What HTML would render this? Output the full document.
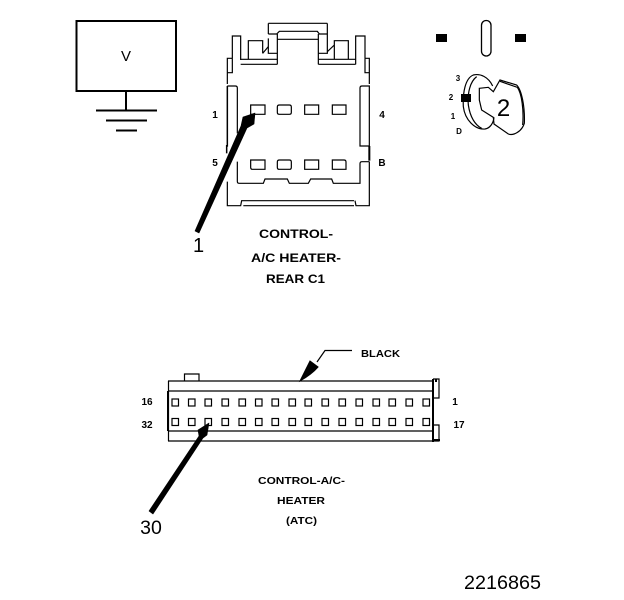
<!DOCTYPE html>
<html>
<head>
<meta charset="utf-8">
<style>
html,body{margin:0;padding:0;background:#fff;width:624px;height:600px;overflow:hidden}
svg{display:block}
text{font-family:"Liberation Sans",sans-serif;fill:#000}
.b{font-weight:bold;font-size:11.5px}
.s{font-size:10px;font-weight:bold}
</style>
</head>
<body>
<svg width="624" height="600" viewBox="0 0 624 600" xmlns="http://www.w3.org/2000/svg">
<rect width="624" height="600" fill="#fff"/>

<!-- V box with ground -->
<rect x="76.5" y="21" width="99.5" height="70" fill="none" stroke="#000" stroke-width="2"/>
<path d="M126 91V110M96 110.500H157M106 120.500H147M116 130.500H137" fill="none" stroke="#000" stroke-width="2"/>
<text x="126" y="61" text-anchor="middle" font-size="15">V</text>

<!-- Connector C1 (drawn in 3x zoom coordinates) -->
<g transform="translate(200 10) scale(.33333)" fill="none" stroke="#000" stroke-width="3.600">
<path d="M205 40H382M205 40V72M382 40V72M205 72H230L238 64H352L358 72H382M232 88H355"/>
<path d="M205 85V130H232V163M232 72V130M382 72V130H355V163M355 72V130"/>
<path d="M97 145V78H122V150M122 148H232M122 163H232"/>
<path d="M145 148V92H188V130M188 130L205 110"/>
<path d="M355 148H467M355 163H467M467 163V78H495V145"/>
<path d="M403 148V92H445V148M382 125L403 105"/>
<path d="M97 145H82V222M82 188H97V145M495 145H508V222M495 145V188H508"/>
<path d="M82 228H106Q112 228 112 234V370"/>
<path d="M82 228V410" stroke-width="4.500"/>
<path d="M80 405V430" stroke-width="4.500"/>
<path d="M82 515V587H122L125 572H130M130 572H462M130 587H462M122 587L125 572M465 572L468 587H508V455"/>
<path d="M486 228H508V408H480V234Q480 228 486 228Z"/>
<path d="M508 408V452" stroke-width="6"/>
<path d="M508 455H486Q480 455 480 461V520H400L395 507H332L325 520H268L262 507H195L190 520H118Q112 520 112 514V455"/>
<path d="M152 285H195V313H152ZM238 285H268Q274 285 274 291V307Q274 313 268 313H238Q232 313 232 307V291Q232 285 238 285ZM314 285H356V313H314ZM397 285H438V313H397Z"/>
<path d="M152 450H195V478H158Q152 478 152 472ZM238 450H268Q274 450 274 456V472Q274 478 268 478H238Q232 478 232 472V456Q232 450 238 450ZM314 450H356V478H314ZM397 450H432Q438 450 438 456V478H397Z"/>
</g>
<text class="s" x="215" y="118" text-anchor="middle">1</text>
<text class="s" x="382" y="118" text-anchor="middle">4</text>
<text class="s" x="215" y="166" text-anchor="middle">5</text>
<text class="s" x="382" y="166" text-anchor="middle">B</text>

<!-- Arrow 1 -->
<path d="M195 231L199 233L247 128L254 124L255 113L243 117L241 126Z" fill="#000" stroke="#000" stroke-width=".6" stroke-linejoin="round"/>
<text x="198.500" y="252" text-anchor="middle" font-size="20">1</text>

<!-- Labels C1 -->
<text class="b" x="259" y="238" textLength="74" lengthAdjust="spacingAndGlyphs">CONTROL-</text>
<text class="b" x="251" y="262" textLength="90" lengthAdjust="spacingAndGlyphs">A/C HEATER-</text>
<text class="b" x="266" y="283" textLength="59" lengthAdjust="spacingAndGlyphs">REAR C1</text>

<!-- Key / terminal view -->
<rect x="436" y="34" width="11" height="8" fill="#000"/>
<rect x="515" y="34" width="11" height="8" fill="#000"/>
<rect x="481.500" y="20.500" width="9.500" height="35.500" rx="4.700" fill="none" stroke="#000" stroke-width="1.300"/>
<g transform="translate(420 10) scale(.33333)" fill="none" stroke="#000" stroke-width="3.600">
<path d="M218 228C205 200 180 190 160 195C135 205 128 250 130 290C135 330 165 360 195 357C210 355 220 340 222 322"/>
<path d="M170 200C150 215 142 250 145 285C150 320 165 345 185 355"/>
<path d="M178 235L205 232L220 245L240 210L290 225C305 240 315 290 313 340C305 365 280 378 265 372L222 342L220 322L185 300L178 270Z"/>
<path d="M240 214L292 232C305 250 312 300 308 345"/>
</g>
<rect x="461" y="94" width="10" height="8" fill="#000"/>
<text x="458" y="81" text-anchor="middle" font-size="8" font-weight="bold">3</text>
<text x="451" y="100" text-anchor="middle" font-size="8" font-weight="bold">2</text>
<text x="453" y="119" text-anchor="middle" font-size="8" font-weight="bold">1</text>
<text x="459" y="134" text-anchor="middle" font-size="8" font-weight="bold">D</text>
<text x="503.500" y="116" text-anchor="middle" font-size="24">2</text>

<!-- Bottom connector -->
<g fill="none" stroke="#000" stroke-width="1.200">
<path d="M168 381H433M168 391H433M168 431H433M168 441H433M168.500 381V441"/>
<path d="M168 391V431" stroke-width="2"/>
<path d="M433 379V442" stroke-width="2"/>
<path d="M184.500 381V374H199V381"/>
<path d="M433 379H439V398H434M434 425H439V441H433"/>
<path d="M436 379V382M434 440H440" stroke-width="2"/>
<g>
<rect x="172" y="399" width="6.500" height="7"/><rect x="188.500" y="399" width="6.500" height="7"/><rect x="205" y="399" width="6.500" height="7"/><rect x="222" y="399" width="6.500" height="7"/><rect x="239" y="399" width="6.500" height="7"/><rect x="255.500" y="399" width="6.500" height="7"/><rect x="272" y="399" width="6.500" height="7"/><rect x="289" y="399" width="6.500" height="7"/><rect x="305" y="399" width="6.500" height="7"/><rect x="322" y="399" width="6.500" height="7"/><rect x="339" y="399" width="6.500" height="7"/><rect x="356" y="399" width="6.500" height="7"/><rect x="373" y="399" width="6.500" height="7"/><rect x="389" y="399" width="6.500" height="7"/><rect x="406" y="399" width="6.500" height="7"/><rect x="423" y="399" width="6.500" height="7"/>
<rect x="172" y="418.500" width="6.500" height="7"/><rect x="188.500" y="418.500" width="6.500" height="7"/><rect x="205" y="418.500" width="6.500" height="7"/><rect x="222" y="418.500" width="6.500" height="7"/><rect x="239" y="418.500" width="6.500" height="7"/><rect x="255.500" y="418.500" width="6.500" height="7"/><rect x="272" y="418.500" width="6.500" height="7"/><rect x="289" y="418.500" width="6.500" height="7"/><rect x="305" y="418.500" width="6.500" height="7"/><rect x="322" y="418.500" width="6.500" height="7"/><rect x="339" y="418.500" width="6.500" height="7"/><rect x="356" y="418.500" width="6.500" height="7"/><rect x="373" y="418.500" width="6.500" height="7"/><rect x="389" y="418.500" width="6.500" height="7"/><rect x="406" y="418.500" width="6.500" height="7"/><rect x="423" y="418.500" width="6.500" height="7"/>
</g>
</g>
<text class="s" x="147" y="405" text-anchor="middle">16</text>
<text class="s" x="147" y="428" text-anchor="middle">32</text>
<text class="s" x="455" y="405" text-anchor="middle">1</text>
<text class="s" x="459" y="428" text-anchor="middle">17</text>

<!-- BLACK leader -->
<path d="M352 350.500H325L317 362" fill="none" stroke="#000" stroke-width="1.200"/>
<path d="M300 381L310 361L318 367Q312 374 300 381Z" fill="#000" stroke="#000"/>
<text class="s" x="361" y="357" textLength="39" lengthAdjust="spacingAndGlyphs">BLACK</text>

<!-- Arrow 30 -->
<path d="M149 511L153 514L203 438L207 435L209 423L198 430L199 436Z" fill="#000" stroke="#000" stroke-width=".6" stroke-linejoin="round"/>
<text x="151" y="534" text-anchor="middle" font-size="19.500">30</text>

<!-- Labels ATC -->
<text class="b" x="258" y="484" textLength="87" lengthAdjust="spacingAndGlyphs" style="font-size:10.500px">CONTROL-A/C-</text>
<text class="b" x="277" y="504" textLength="48" lengthAdjust="spacingAndGlyphs" style="font-size:10.500px">HEATER</text>
<text class="b" x="286" y="524" textLength="31" lengthAdjust="spacingAndGlyphs" style="font-size:10.500px">(ATC)</text>

<text x="464" y="589" textLength="77" lengthAdjust="spacingAndGlyphs" font-size="19.500">2216865</text>
</svg>
</body>
</html>
